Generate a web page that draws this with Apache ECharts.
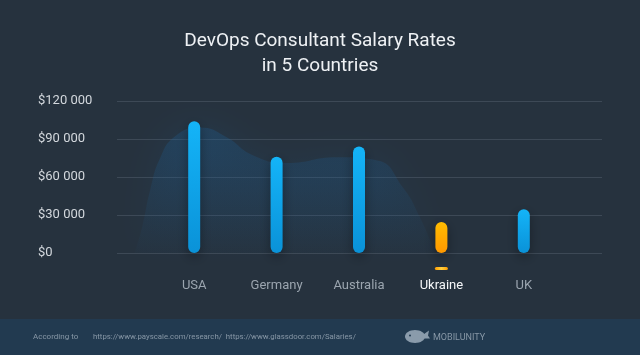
<!DOCTYPE html>
<html><head><meta charset="utf-8">
<script src="https://cdn.jsdelivr.net/npm/echarts@6/dist/echarts.min.js"></script>
<style>html,body{margin:0;padding:0;background:#26323e}#c{width:640px;height:355px}</style>
</head><body><div id="c"></div><script>
const countries = ['USA', 'Germany', 'Australia', 'Ukraine', 'UK'];
const salaries = [104000, 76000, 84000, 24500, 34500];
const highlighted = 'Ukraine';
const yTickMax = 120000;
const yTickStep = 30000;
// decorative glow silhouette: positions in category-index units, salary units
const glowX = [-0.72, -0.63, -0.53, -0.41, -0.23, 0.07, 0.38, 0.72, 1.13, 1.73, 2.22, 2.53, 2.74, 2.92];
const glowY = [0, 20000, 50000, 75000, 92000, 99000, 92000, 77000, 71000, 75500, 73000, 52000, 28000, 0];
const titleText = 'DevOps Consultant Salary Rates\nin 5 Countries';
const sourceLabel = 'According to';
const sourceLinks = 'https://www.payscale.com/research/  https://www.glassdoor.com/Salaries/';
const brand = 'MOBILUNITY';

const FONT = 'Roboto, "Noto Sans", sans-serif';
const chart = echarts.init(document.getElementById('c'), null, {renderer: 'canvas'});

function fmt(v) {
  if (v === 0) return '$0';
  const s = String(v);
  return '$' + s.replace(/\B(?=(\d{3})+(?!\d))/g, ' ');
}

const blueGrad = new echarts.graphic.LinearGradient(0, 0, 0, 1, [
  {offset: 0, color: '#14b4f8'}, {offset: 1, color: '#0a92d8'}]);
const orangeGrad = new echarts.graphic.LinearGradient(0, 0, 0, 1, [
  {offset: 0, color: '#ffbc00'}, {offset: 1, color: '#ff9800'}]);

const barData = salaries.map((v, i) => ({
  value: v,
  itemStyle: {color: countries[i] === highlighted ? orangeGrad : blueGrad}
}));

chart.setOption({
  backgroundColor: '#26323e',
  animation: false,
  title: {
    text: titleText, left: 'center', top: 24,
    textStyle: {color: '#eef1f4', fontSize: 19, fontWeight: 'normal', fontFamily: FONT, lineHeight: 25}
  },
  grid: [
    {left: 117, width: 485, top: 101, height: 152},
    {left: 153, width: 412, top: 101, height: 152}
  ],
  xAxis: [
    {type: 'value', gridIndex: 0, min: -0.933, max: 4.945, show: false},
    {type: 'category', gridIndex: 1, data: countries,
      axisLine: {show: false}, axisTick: {show: false},
      axisLabel: {
        interval: 0, margin: 14, fontFamily: FONT,
        formatter: (v) => (v === highlighted ? '{d|}\n{h|' + v + '}' : '{e|}\n{n|' + v + '}'),
        rich: {
          d: {width: 13, height: 3, lineHeight: 3, borderRadius: 1.5,
              backgroundColor: new echarts.graphic.LinearGradient(0, 0, 1, 0, [
                {offset: 0, color: '#ff9d00'}, {offset: 0.5, color: '#ffd040'}, {offset: 1, color: '#ff9d00'}])},
          e: {width: 13, height: 3, lineHeight: 3},
          n: {color: '#9ba5af', fontSize: 13, lineHeight: 32, fontFamily: FONT},
          h: {color: '#f4f6f8', fontSize: 13, lineHeight: 32, fontFamily: FONT, fontWeight: 'normal'}
        }
      }
    }
  ],
  yAxis: [
    {type: 'value', gridIndex: 0, min: 0, max: yTickMax, interval: yTickStep,
      axisLine: {show: false}, axisTick: {show: false},
      splitLine: {lineStyle: {color: '#3d4956', width: 1}},
      axisLabel: {align: 'left', margin: 79, color: '#d3d8dd', fontSize: 13, fontFamily: FONT,
        padding: [0, 0, 7, 0], formatter: fmt}
    },
    {type: 'value', gridIndex: 1, min: 0, max: yTickMax, interval: yTickStep, show: false,
      splitLine: {show: false}}
  ],
  series: [
    {
      type: 'line', xAxisIndex: 0, yAxisIndex: 0, z: 1,
      data: glowX.map((x, i) => [x, glowY[i]]),
      smooth: 0.5, symbol: 'none', clip: false, silent: true,
      lineStyle: {width: 0},
      areaStyle: {
        color: new echarts.graphic.LinearGradient(0, 0, 0, 1, [
          {offset: 0, color: 'rgba(30,96,150,0.42)'}, {offset: 1, color: 'rgba(30,96,150,0.04)'}]),
        shadowBlur: 32, shadowColor: 'rgba(30,96,150,0.55)'
      }
    },
    {
      type: 'bar', xAxisIndex: 1, yAxisIndex: 1, z: 3,
      data: barData, barWidth: 12,
      itemStyle: {borderRadius: 6, shadowBlur: 12, shadowColor: 'rgba(0,0,0,0.35)', shadowOffsetY: 4}
    }
  ],
  graphic: [
    {type: 'rect', left: 0, top: 319, shape: {width: 640, height: 36}, style: {fill: '#223a50'}, z: -1},
    {type: 'text', left: 33, top: 333, style: {text: sourceLabel, fill: '#8797a6', font: '8px ' + FONT}},
    {type: 'text', left: 93, top: 333, style: {text: sourceLinks, fill: '#8797a6', font: '7.8px ' + FONT}},
    {type: 'group', left: 405, top: 330, children: [
      {type: 'ellipse', shape: {cx: 12, cy: 8, rx: 10, ry: 6.5}, style: {fill: '#8a9bab'}},
      {type: 'polygon', shape: {points: [[19, 7], [26, 2], [25, 7], [27, 10], [20, 10]]}, style: {fill: '#8a9bab'}},
      {type: 'circle', shape: {cx: 7, cy: 7, r: 1}, style: {fill: '#223a50'}}
    ]},
    {type: 'text', left: 433, top: 333, style: {text: brand, fill: '#8797a6', font: '9px ' + FONT, letterSpacing: 1.2}}
  ]
});
</script></body></html>
